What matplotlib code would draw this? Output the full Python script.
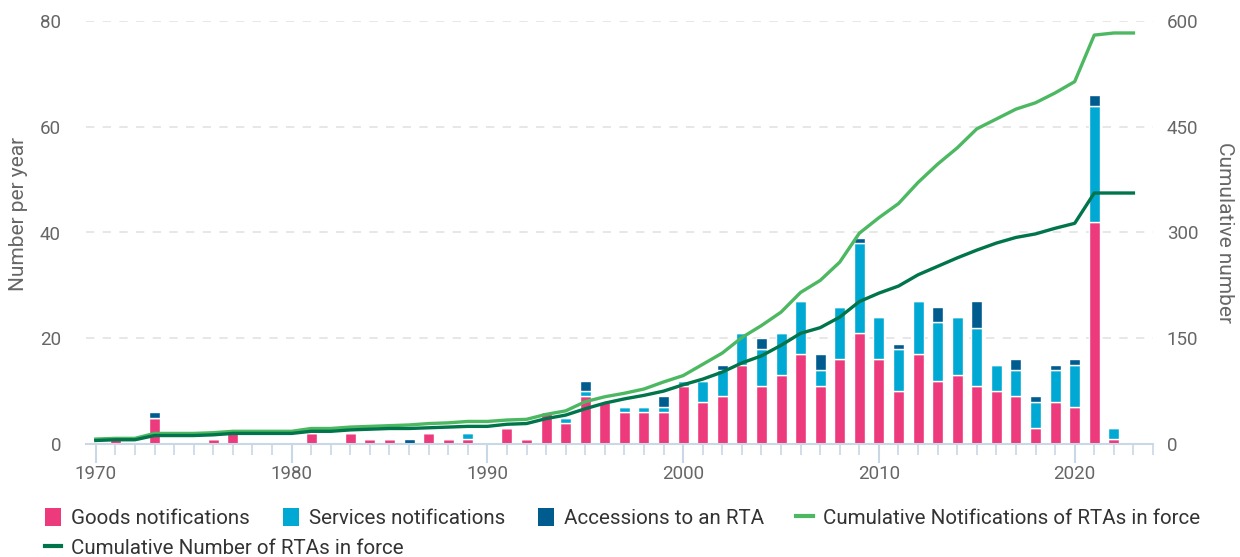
import matplotlib.pyplot as plt
from matplotlib.lines import Line2D
from matplotlib.patches import Patch
from matplotlib.ticker import MultipleLocator


BAR_YEARS = list(range(1970, 2023))
LINE_YEARS = list(range(1970, 2024))

GOODS = [
    0, 1, 0, 5, 0, 0, 1, 2, 0, 0,
    0, 2, 0, 2, 1, 1, 0, 2, 1, 1,
    0, 3, 1, 6, 4, 9, 8, 6, 6, 6,
    11, 8, 9, 15, 11, 13, 17, 11, 16, 21,
    16, 10, 17, 12, 13, 11, 10, 9, 3, 8,
    7, 42, 1,
]
SERVICES = [
    0, 0, 0, 0, 0, 0, 0, 0, 0, 0,
    0, 0, 0, 0, 0, 0, 0, 0, 0, 1,
    0, 0, 0, 0, 1, 1, 0, 1, 1, 1,
    1, 4, 5, 6, 7, 8, 10, 3, 10, 17,
    8, 8, 10, 11, 11, 11, 5, 5, 5, 6,
    8, 22, 2,
]
ACCESSIONS = [
    0, 0, 0, 1, 0, 0, 0, 0, 0, 0,
    0, 0, 0, 0, 0, 0, 1, 0, 0, 0,
    0, 0, 0, 0, 0, 2, 0, 0, 0, 2,
    0, 0, 1, 0, 2, 0, 0, 3, 0, 1,
    0, 1, 0, 3, 0, 5, 0, 2, 1, 1,
    1, 2, 0,
]
CUM_NOTIFICATIONS = [
    7, 8, 8, 15, 15, 15, 16, 18, 18, 18,
    18, 22, 22, 24, 25, 26, 27, 29, 30, 32,
    32, 34, 35, 42, 47, 60, 67, 72, 78, 88,
    97, 113, 129, 151, 168, 187, 215, 232, 258, 299,
    321, 341, 371, 397, 420, 447, 461, 475, 484, 498,
    514, 580, 583, 583,
]
CUM_RTAS = [
    5, 6, 6, 12, 12, 12, 13, 15, 15, 15,
    15, 18, 18, 20, 21, 22, 22, 23, 24, 25,
    25, 28, 29, 36, 41, 50, 58, 64, 69, 75,
    84, 92, 102, 115, 125, 140, 157, 165, 180, 202,
    214, 224, 240, 252, 264, 275, 285, 293, 298, 306,
    313, 356, 356, 356,
]

PINK = "#ED3A7C"
CYAN = "#00A9D3"
NAVY = "#005B8E"
LIGHT_GREEN = "#4DB862"
DARK_GREEN = "#00744A"
AXIS_COLOR = "#C9D7E6"
TEXT_GRAY = "#666666"

plt.rcParams["font.family"] = ["Roboto", "DejaVu Sans"]

fig = plt.figure(figsize=(12.4, 5.57), dpi=100)
ax = fig.add_axes([86 / 1240, 113 / 557, 1067 / 1240, 423 / 557])
ax2 = ax.twinx()

width = 0.56
bar_style = dict(width=width, edgecolor="white", linewidth=1.0, zorder=2)
ax.bar(BAR_YEARS, GOODS, color=PINK, **bar_style)
services_bottom = GOODS
ax.bar(BAR_YEARS, SERVICES, bottom=services_bottom, color=CYAN, **bar_style)
acc_bottom = [g + s for g, s in zip(GOODS, SERVICES)]
ax.bar(BAR_YEARS, ACCESSIONS, bottom=acc_bottom, color=NAVY, **bar_style)

ax2.plot(LINE_YEARS, CUM_NOTIFICATIONS, color=LIGHT_GREEN, linewidth=2.4,
         zorder=3)
ax2.plot(LINE_YEARS, CUM_RTAS, color=DARK_GREEN, linewidth=2.4, zorder=4)

ax.set_xlim(1969.5, 2024)
ax.set_ylim(0, 80)
ax2.set_ylim(0, 600)

ax.set_yticks([0, 20, 40, 60, 80])
ax2.set_yticks([0, 150, 300, 450, 600])
ax.xaxis.set_major_locator(MultipleLocator(10))
ax.xaxis.set_minor_locator(MultipleLocator(1))

for y in [20, 40, 60, 80]:
    ax.axhline(y, color="#E3E3E3", linewidth=1.2, linestyle=(0, (5, 5)),
               zorder=0)

for a in (ax, ax2):
    for side in ("top", "left", "right"):
        a.spines[side].set_visible(False)
ax2.spines["bottom"].set_visible(False)
ax.spines["bottom"].set_color(AXIS_COLOR)
ax.spines["bottom"].set_linewidth(1.5)

ax.tick_params(axis="x", which="major", length=14, width=1.5,
               color=AXIS_COLOR, labelsize=13.5, labelcolor=TEXT_GRAY, pad=1)
ax.tick_params(axis="x", which="minor", length=8, width=1.2,
               color=AXIS_COLOR)
ax.tick_params(axis="y", length=0, labelsize=13.5, labelcolor=TEXT_GRAY,
               pad=18)
ax2.tick_params(axis="y", length=0, labelsize=13.5, labelcolor=TEXT_GRAY,
                pad=10)

ax.set_ylabel("Number per year", fontsize=15, color=TEXT_GRAY)
ax.yaxis.set_label_coords(-0.054, 0.545)
ax2.set_ylabel("Cumulative number", fontsize=15, color=TEXT_GRAY,
               rotation=270)
ax2.yaxis.set_label_coords(1.076, 0.5)

legend_style = dict(
    frameon=False,
    fontsize=14.8,
    handlelength=0.8,
    handleheight=1.0,
    handletextpad=0.48,
    columnspacing=1.58,
    borderpad=0,
    borderaxespad=0,
    labelcolor="#333333",
)
row1 = [
    Patch(facecolor=PINK, edgecolor="none"),
    Patch(facecolor=CYAN, edgecolor="none"),
    Patch(facecolor=NAVY, edgecolor="none"),
    Line2D([], [], color=LIGHT_GREEN, linewidth=3),
]
row1_labels = [
    "Goods notifications",
    "Services notifications",
    "Accessions to an RTA",
    "Cumulative Notifications of RTAs in force",
]
fig.legend(row1, row1_labels, loc="center left", ncol=4,
           bbox_to_anchor=(45 / 1240, 39 / 557), **legend_style)
fig.legend([Line2D([], [], color=DARK_GREEN, linewidth=3)],
           ["Cumulative Number of RTAs in force"], loc="center left",
           bbox_to_anchor=(45 / 1240, 9 / 557), **legend_style)

fig.savefig("out.png", dpi=100)
